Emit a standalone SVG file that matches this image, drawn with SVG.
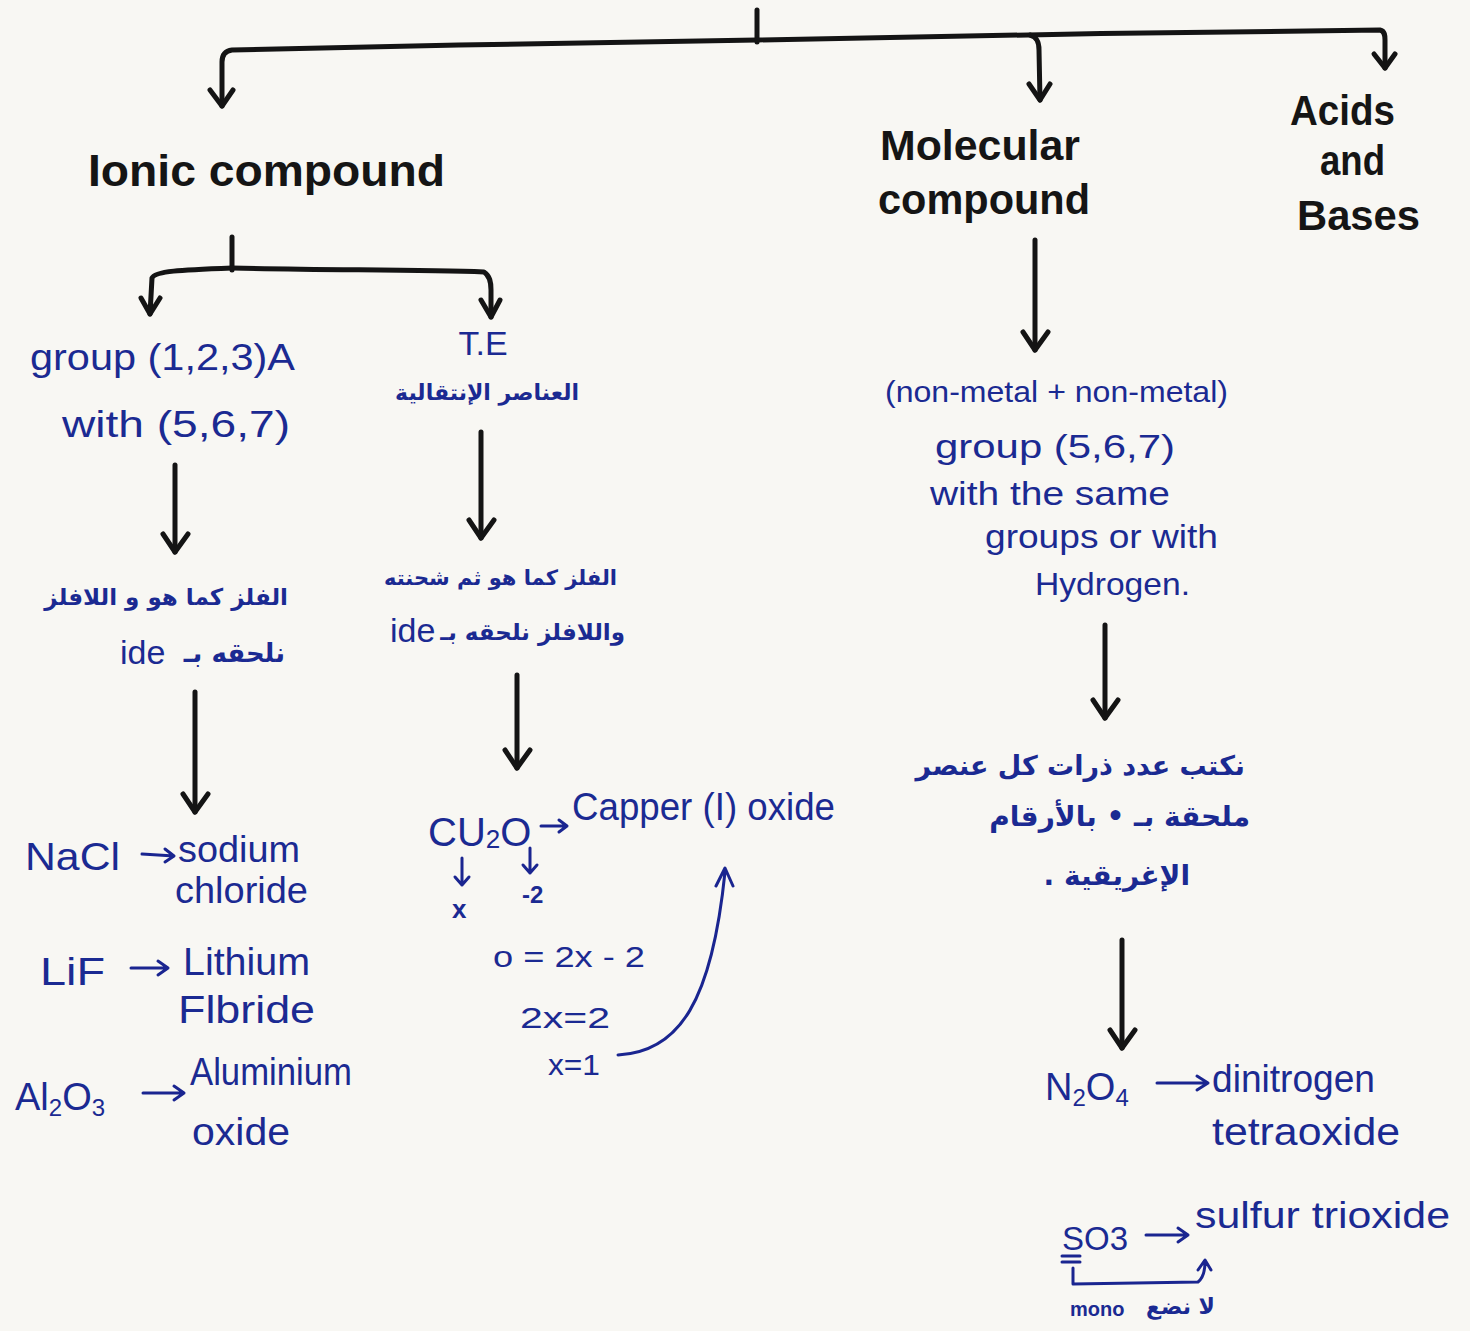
<svg xmlns="http://www.w3.org/2000/svg" width="1470" height="1331" viewBox="0 0 1470 1331">
<style>
.bg{fill:#f8f7f3}
.k{fill:none;stroke:#141414;stroke-width:5;stroke-linecap:round;stroke-linejoin:round}
.b{fill:none;stroke:#1a2590;stroke-width:3;stroke-linecap:round;stroke-linejoin:round}
.h{font-family:"Liberation Sans",Arial,sans-serif;font-weight:bold;fill:#151515}
.t{font-family:"Liberation Sans",Arial,sans-serif;fill:#1b2a92}
.ar{font-family:"DejaVu Sans","Noto Sans",sans-serif;fill:#1b2a92;font-weight:bold}
</style>
<rect class="bg" x="0" y="0" width="1470" height="1331"/>

<g id="connectors">
<path class="k" d="M757 10 L757 42"/>
<path class="k" d="M757 40 C600 42 400 46 232 50 C224 51 222 56 222 62 L222 106"/>
<path class="k" d="M210 90 L222 106 L233 90"/>
<path class="k" d="M757 40 C900 36 1200 32 1380 30 C1385 31 1385 36 1385 40 L1385 68"/>
<path class="k" d="M1374 54 L1385 68 L1395 54"/>
<path class="k" d="M1030 35 C1037 37 1039 42 1039 50 L1040 100"/>
<path class="k" d="M1029 84 L1040 100 L1050 84"/>
<path class="k" d="M232 237 L232 270"/>
<path class="k" d="M232 268 C180 270 155 271 152 278 L150 314"/>
<path class="k" d="M141 298 L150 314 L160 298"/>
<path class="k" d="M232 268 C330 270 420 270 484 272 C490 276 491 282 491 290 L491 317"/>
<path class="k" d="M481 300 L491 317 L500 300"/>
<path class="k" d="M175 465 L175 552"/>
<path class="k" d="M163 534 L175 552 L188 534"/>
<path class="k" d="M481 432 L481 538"/>
<path class="k" d="M469 520 L481 538 L494 520"/>
<path class="k" d="M195 692 L195 812"/>
<path class="k" d="M183 794 L195 812 L208 794"/>
<path class="k" d="M517 675 L517 768"/>
<path class="k" d="M505 750 L517 768 L530 750"/>
<path class="k" d="M1035 240 L1035 350"/>
<path class="k" d="M1023 332 L1035 350 L1048 332"/>
<path class="k" d="M1105 625 L1105 718"/>
<path class="k" d="M1093 700 L1105 718 L1118 700"/>
<path class="k" d="M1122 940 L1122 1048"/>
<path class="k" d="M1110 1030 L1122 1048 L1135 1030"/>
<path class="b" d="M142 854 L174 856 M165 849 L174 856 L165 862"/>
<path class="b" d="M131 968 L168 968 M158 961 L168 968 L158 975"/>
<path class="b" d="M143 1093 L184 1093 M174 1086 L184 1093 L174 1100"/>
<path class="b" d="M541 826 L567 826 M559 820 L567 826 L559 832"/>
<path class="b" d="M462 858 L462 885 M455 877 L462 885 L469 877"/>
<path class="b" d="M530 848 L530 873 M523 865 L530 873 L537 865"/>
<path class="b" d="M618 1055 C680 1052 712 1000 725 872 M716 886 L725 868 L733 886"/>
<path class="b" d="M1157 1083 L1208 1083 M1197 1076 L1208 1083 L1197 1090"/>
<path class="b" d="M1146 1235 L1188 1235 M1178 1228 L1188 1235 L1178 1242"/>
<path class="b" d="M1062 1256 L1080 1256 M1062 1262 L1080 1262"/>
<path class="b" d="M1073 1268 L1073 1284 L1198 1282 C1203 1278 1205 1272 1205 1262 M1198 1270 L1205 1260 L1211 1270"/>
</g>

<g id="ionic"><text class="h" x="88" y="186" font-size="44" textLength="357" lengthAdjust="spacingAndGlyphs">Ionic compound</text></g>
<g id="molecular">
<text class="h" x="880" y="160" font-size="42" textLength="200" lengthAdjust="spacingAndGlyphs">Molecular</text>
<text class="h" x="878" y="214" font-size="42" textLength="212" lengthAdjust="spacingAndGlyphs">compound</text>
</g>
<g id="acids">
<text class="h" x="1290" y="125" font-size="42" textLength="105" lengthAdjust="spacingAndGlyphs">Acids</text>
<text class="h" x="1320" y="175" font-size="42" textLength="65" lengthAdjust="spacingAndGlyphs">and</text>
<text class="h" x="1297" y="230" font-size="42" textLength="123" lengthAdjust="spacingAndGlyphs">Bases</text>
</g>

<g id="group123">
<text class="t" x="30" y="370" font-size="36" textLength="265" lengthAdjust="spacingAndGlyphs">group (1,2,3)A</text>
<text class="t" x="62" y="437" font-size="36" textLength="228" lengthAdjust="spacingAndGlyphs">with (5,6,7)</text>
</g>
<g id="te">
<text class="t" x="483" y="355" font-size="34" text-anchor="middle">T.E</text>
<text class="ar" x="487" y="400" font-size="22" text-anchor="middle">العناصر الإنتقالية</text>
</g>
<g id="ionic-rule">
<text class="ar" x="288" y="605" font-size="23" direction="rtl" text-anchor="start">الفلز كما هو و اللافلز</text>
<text class="ar" x="285" y="662" font-size="26" direction="rtl" text-anchor="start">نلحقه بـ</text>
<text class="t" x="120" y="664" font-size="34">ide</text>
</g>
<g id="te-rule">
<text class="ar" x="617" y="585" font-size="21" direction="rtl" text-anchor="start">الفلز كما هو ثم شحنته</text>
<text class="ar" x="625" y="640" font-size="23" direction="rtl" text-anchor="start">واللافلز نلحقه بـ</text>
<text class="t" x="390" y="642" font-size="34">ide</text>
</g>
<g id="ionic-examples">
<text class="t" x="25" y="870" font-size="38" textLength="95" lengthAdjust="spacingAndGlyphs">NaCl</text>
<text class="t" x="178" y="862" font-size="36" textLength="122" lengthAdjust="spacingAndGlyphs">sodium</text>
<text class="t" x="175" y="903" font-size="36" textLength="133" lengthAdjust="spacingAndGlyphs">chloride</text>
<text class="t" x="40" y="985" font-size="38" textLength="65" lengthAdjust="spacingAndGlyphs">LiF</text>
<text class="t" x="183" y="975" font-size="38" textLength="127" lengthAdjust="spacingAndGlyphs">Lithium</text>
<text class="t" x="178" y="1023" font-size="38" textLength="137" lengthAdjust="spacingAndGlyphs">Flbride</text>
<text class="t" x="15" y="1110" font-size="38">Al<tspan font-size="24" dy="6">2</tspan><tspan dy="-6">O</tspan><tspan font-size="24" dy="6">3</tspan></text>
<text class="t" x="190" y="1085" font-size="38" textLength="162" lengthAdjust="spacingAndGlyphs">Aluminium</text>
<text class="t" x="192" y="1145" font-size="38" textLength="98" lengthAdjust="spacingAndGlyphs">oxide</text>
</g>
<g id="te-example">
<text class="t" x="428" y="846" font-size="40">CU<tspan font-size="26" dy="2">2</tspan><tspan dy="-2">O</tspan></text>
<text class="t" x="572" y="820" font-size="38" textLength="263" lengthAdjust="spacingAndGlyphs">Capper (I) oxide</text>
<text class="t" x="452" y="918" font-size="26" font-weight="bold">x</text>
<text class="t" x="522" y="903" font-size="24" font-weight="bold">-2</text>
<text class="t" x="493" y="967" font-size="30" textLength="152" lengthAdjust="spacingAndGlyphs">o = 2x - 2</text>
<text class="t" x="520" y="1028" font-size="30" textLength="90" lengthAdjust="spacingAndGlyphs">2x=2</text>
<text class="t" x="548" y="1075" font-size="30" textLength="52" lengthAdjust="spacingAndGlyphs">x=1</text>
</g>
<g id="molecular-def">
<text class="t" x="885" y="402" font-size="30" textLength="343" lengthAdjust="spacingAndGlyphs">(non-metal + non-metal)</text>
<text class="t" x="935" y="458" font-size="34" textLength="240" lengthAdjust="spacingAndGlyphs">group (5,6,7)</text>
<text class="t" x="930" y="505" font-size="34" textLength="240" lengthAdjust="spacingAndGlyphs">with the same</text>
<text class="t" x="985" y="548" font-size="34" textLength="233" lengthAdjust="spacingAndGlyphs">groups or with</text>
<text class="t" x="1035" y="595" font-size="32" textLength="155" lengthAdjust="spacingAndGlyphs">Hydrogen.</text>
</g>
<g id="molecular-rule">
<text class="ar" x="1245" y="775" font-size="27" direction="rtl" text-anchor="start">نكتب عدد ذرات كل عنصر</text>
<text class="ar" x="1250" y="826" font-size="28" direction="rtl" text-anchor="start">ملحقة بـ • بالأرقام</text>
<text class="ar" x="1190" y="885" font-size="28" direction="rtl" text-anchor="start">الإغريقية .</text>
</g>
<g id="molecular-examples">
<text class="t" x="1045" y="1100" font-size="38">N<tspan font-size="24" dy="6">2</tspan><tspan dy="-6">O</tspan><tspan font-size="24" dy="6">4</tspan></text>
<text class="t" x="1212" y="1092" font-size="38" textLength="163" lengthAdjust="spacingAndGlyphs">dinitrogen</text>
<text class="t" x="1212" y="1145" font-size="38" textLength="188" lengthAdjust="spacingAndGlyphs">tetraoxide</text>
<text class="t" x="1062" y="1250" font-size="34" textLength="66" lengthAdjust="spacingAndGlyphs">SO3</text>
<text class="t" x="1195" y="1228" font-size="36" textLength="255" lengthAdjust="spacingAndGlyphs">sulfur trioxide</text>
<text class="t" x="1070" y="1316" font-size="20" font-weight="bold">mono</text>
<text class="ar" x="1215" y="1314" font-size="22" direction="rtl" text-anchor="start">لا نضع</text>
</g>
</svg>
